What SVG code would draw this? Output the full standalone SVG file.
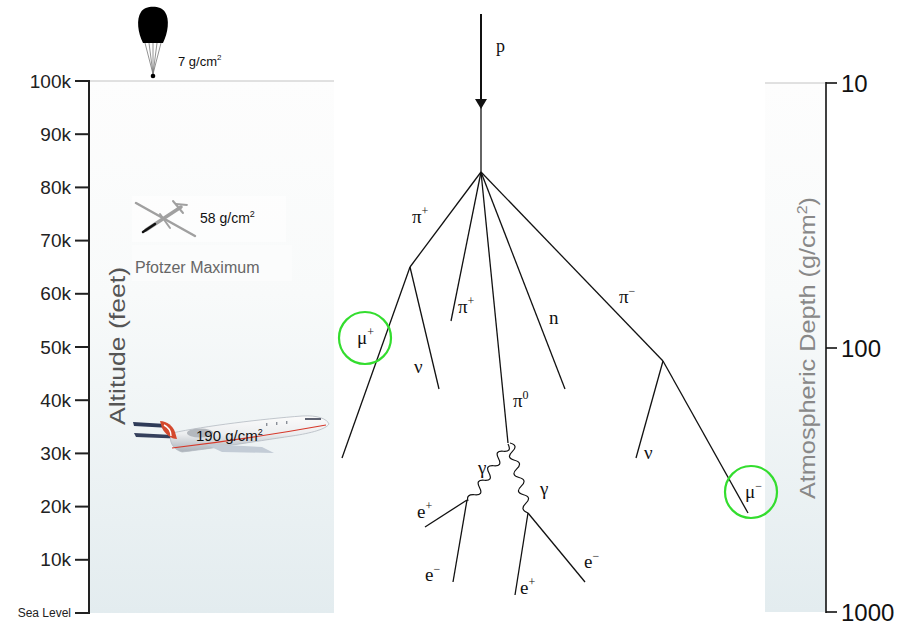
<svg xmlns="http://www.w3.org/2000/svg" width="914" height="627" viewBox="0 0 914 627">
  <defs>
    <linearGradient id="sky" x1="0" y1="0" x2="0" y2="1">
      <stop offset="0" stop-color="#fdfdfd"/>
      <stop offset="0.4" stop-color="#f8fafa"/>
      <stop offset="1" stop-color="#e3ecef"/>
    </linearGradient>
    <linearGradient id="hull" x1="0" y1="0" x2="0" y2="1">
      <stop offset="0" stop-color="#fbfbfb"/>
      <stop offset="0.5" stop-color="#eceef0"/>
      <stop offset="1" stop-color="#aab1b9"/>
    </linearGradient>
    <filter id="soft" x="-10%" y="-30%" width="120%" height="160%">
      <feGaussianBlur stdDeviation="0.5"/>
    </filter>
    <style>
      .ax { stroke: #222; stroke-width: 2; fill: none; }
      .tick { stroke: #222; stroke-width: 2; }
      .alab { font-family: "Liberation Sans", Arial, sans-serif; font-size: 19px; fill: #222; text-anchor: end; }
      .rlab { font-family: "Liberation Sans", Arial, sans-serif; font-size: 24px; fill: #111; }
      .edge { stroke: #111; stroke-width: 1.3; fill: none; }
      .wave { stroke: #111; stroke-width: 1.2; fill: none; }
      .ptl { font-family: "Liberation Serif", "Times New Roman", serif; font-size: 19px; fill: #111; }
      .sup { font-size: 12px; }
      .ring { stroke: #33dd2e; stroke-width: 2.2; fill: none; }
      .note { font-family: "Liberation Sans", Arial, sans-serif; fill: #111; }
    </style>
  </defs>

  <rect width="914" height="627" fill="#ffffff"/>

  <!-- atmosphere panels -->
  <rect x="89" y="81" width="245" height="532" fill="url(#sky)"/>
  <rect x="765" y="83" width="61" height="529" fill="url(#sky)"/>
  <line x1="89" y1="81" x2="334" y2="81" stroke="#c4c4c4" stroke-width="1.2"/>
  <line x1="765" y1="83" x2="826" y2="83" stroke="#c4c4c4" stroke-width="1.2"/>

  <!-- altitude axis -->
  <g id="altitude-axis">
    <line class="ax" x1="89" y1="80" x2="89" y2="614"/>
    <g class="tick">
      <line x1="75" y1="81" x2="89" y2="81"/>
      <line x1="75" y1="134.2" x2="89" y2="134.2"/>
      <line x1="75" y1="187.4" x2="89" y2="187.4"/>
      <line x1="75" y1="240.6" x2="89" y2="240.6"/>
      <line x1="75" y1="293.8" x2="89" y2="293.8"/>
      <line x1="75" y1="347" x2="89" y2="347"/>
      <line x1="75" y1="400.2" x2="89" y2="400.2"/>
      <line x1="75" y1="453.4" x2="89" y2="453.4"/>
      <line x1="75" y1="506.6" x2="89" y2="506.6"/>
      <line x1="75" y1="559.8" x2="89" y2="559.8"/>
      <line x1="75" y1="613" x2="89" y2="613"/>
    </g>
    <text class="alab" x="71" y="88">100k</text>
    <text class="alab" x="71" y="141">90k</text>
    <text class="alab" x="71" y="194">80k</text>
    <text class="alab" x="71" y="247">70k</text>
    <text class="alab" x="71" y="300">60k</text>
    <text class="alab" x="71" y="354">50k</text>
    <text class="alab" x="71" y="407">40k</text>
    <text class="alab" x="71" y="460">30k</text>
    <text class="alab" x="71" y="513">20k</text>
    <text class="alab" x="71" y="566">10k</text>
    <text class="alab" x="71" y="617" style="font-size:12px">Sea Level</text>
    <text x="0" y="0" transform="translate(125,346) rotate(-90)" text-anchor="middle" font-family="'Liberation Sans', Arial, sans-serif" font-size="22" fill="#555" textLength="158" lengthAdjust="spacingAndGlyphs">Altitude (feet)</text>
  </g>

  <!-- depth axis -->
  <g id="depth-axis">
    <line x1="826" y1="82" x2="826" y2="613" stroke="#111" stroke-width="1.6"/>
    <line x1="826" y1="83" x2="837" y2="83" stroke="#111" stroke-width="1.6"/>
    <line x1="826" y1="348" x2="837" y2="348" stroke="#111" stroke-width="1.6"/>
    <line x1="826" y1="612" x2="837" y2="612" stroke="#111" stroke-width="1.6"/>
    <text class="rlab" x="841" y="92">10</text>
    <text class="rlab" x="841" y="357">100</text>
    <text class="rlab" x="841" y="621">1000</text>
    <text x="0" y="0" transform="translate(815,348) rotate(-90)" text-anchor="middle" font-family="'Liberation Sans', Arial, sans-serif" font-size="22" fill="#888" textLength="302" lengthAdjust="spacingAndGlyphs">Atmospheric Depth (g/cm<tspan dy="-8" font-size="14">2</tspan><tspan dy="8">)</tspan></text>
  </g>

  <!-- balloon -->
  <g id="balloon">
    <path d="M143,43 C138,33 136,19 141,12 C145,5 161,5 165,12 C170,19 168,33 163,43 Z" fill="#000"/>
    <g stroke="#777" stroke-width="0.8">
      <line x1="145" y1="43" x2="153" y2="74"/>
      <line x1="149" y1="43" x2="153" y2="74"/>
      <line x1="153" y1="43" x2="153" y2="74"/>
      <line x1="157" y1="43" x2="153" y2="74"/>
      <line x1="161" y1="43" x2="153" y2="74"/>
    </g>
    <circle cx="153" cy="76" r="2.3" fill="#000"/>
    <text class="note" x="178" y="66" font-size="13">7 g/cm<tspan dy="-6" font-size="8">2</tspan></text>
  </g>

  <!-- high-altitude aircraft near the Pfotzer maximum -->
  <g id="pfotzer">
    <rect x="132" y="196" width="154" height="46" fill="#ffffff" opacity="0.5"/>
    <rect x="132" y="245" width="160" height="36" fill="#ffffff" opacity="0.4"/>
    <g stroke="#a0a0a0" stroke-linecap="round">
      <line x1="136" y1="203" x2="195" y2="236" stroke-width="2.5"/>
      <line x1="146" y1="230" x2="181" y2="207" stroke-width="3.5"/>
      <line x1="173" y1="201" x2="183" y2="213" stroke-width="2"/>
      <line x1="176" y1="204" x2="187" y2="205" stroke-width="1.8"/>
      <line x1="160" y1="214" x2="170" y2="228" stroke-width="2"/>
    </g>
    <line x1="143" y1="232" x2="155" y2="224" stroke="#111" stroke-width="2.5" stroke-linecap="round"/>
    <text class="note" x="200" y="223" font-size="14">58 g/cm<tspan dy="-6" font-size="9">2</tspan></text>
    <text x="135" y="273" font-family="'Liberation Sans', Arial, sans-serif" font-size="16" fill="#666">Pfotzer Maximum</text>
  </g>

  <!-- airliner -->
  <g id="airliner" filter="url(#soft)">
    <path d="M133,422 L166,424 L170,428 L134,426 Z" fill="#2f3a58"/>
    <path d="M134,433 L212,437 L214,440 L136,437 Z" fill="#34405c"/>
    <path d="M172,433 C205,426 262,419 302,416 C318,415 327,419 329,424 C326,429 312,433 292,436 C252,442 208,449 182,452 C172,449 168,440 172,433 Z" fill="url(#hull)" stroke="#b4bac1" stroke-width="0.8"/>
    <path d="M160,421 C167,421 173,426 175,432 L177,439 C171,439 165,434 162,428 Z" fill="#d44a2e"/>
    <path d="M164,425 C168,427 171,431 171,436" stroke="#ffffff" stroke-width="1.4" fill="none"/>
    <path d="M205,444 L262,447 L274,453 L222,452 Z" fill="#c3ccd6"/>
    <ellipse cx="200" cy="433" rx="13" ry="4.5" fill="#b3b8be"/>
    <path d="M172,448 C222,442 282,433 326,425" stroke="#d6382a" stroke-width="1.2" fill="none"/>
    <path d="M305,419 L321,419" stroke="#5e6472" stroke-width="2"/>
    <g fill="#8a8f98">
      <rect x="266" y="423" width="1.4" height="3"/>
      <rect x="276" y="422" width="1.4" height="3"/>
      <rect x="286" y="421" width="1.4" height="3"/>
    </g>
  </g>
  <text class="note" x="196" y="441" font-size="15">190 g/cm<tspan dy="-6" font-size="9">2</tspan></text>

  <!-- shower connectors -->
  <g id="connectors">
    <line x1="481" y1="14" x2="481" y2="101" stroke="#111" stroke-width="2"/>
    <polygon points="475,99 487,99 481,109" fill="#111"/>
    <line class="edge" x1="481" y1="105" x2="481" y2="172"/>
    <!-- primary vertex branches -->
    <line class="edge" x1="481" y1="172" x2="410" y2="267"/>
    <line class="edge" x1="481" y1="172" x2="451" y2="321"/>
    <line class="edge" x1="481" y1="172" x2="508" y2="443"/>
    <line class="edge" x1="481" y1="172" x2="565" y2="389"/>
    <line class="edge" x1="481" y1="172" x2="663" y2="361"/>
    <!-- pi+ decay -->
    <line class="edge" x1="410" y1="267" x2="342" y2="458"/>
    <line class="edge" x1="410" y1="267" x2="439" y2="389"/>
    <!-- pi- decay -->
    <line class="edge" x1="663" y1="361" x2="636" y2="458"/>
    <line class="edge" x1="663" y1="361" x2="748" y2="513"/>
    <!-- pi0 photons -->
    <path class="wave" d="M508,444 Q512.3,452 503.25,451.25 T498.5,458.5 T493.75,465.75 T489,473 T484.25,480.25 T479.5,487.5 T474.75,494.75 T468,501"/>
    <path class="wave" d="M510,443 Q518.8,445.3 512.25,451.63 T514.5,460.25 T516.75,468.88 T519,477.5 T521.25,486.13 T523.5,494.75 T525.75,503.38 T528,513"/>
    <!-- pair production -->
    <line class="edge" x1="467" y1="500" x2="425" y2="527"/>
    <line class="edge" x1="467" y1="500" x2="453" y2="582"/>
    <line class="edge" x1="528" y1="513" x2="515" y2="595"/>
    <line class="edge" x1="528" y1="513" x2="585" y2="582"/>
  </g>

  <!-- particle labels -->
  <g id="labels">
    <text class="ptl" x="496" y="52" style="font-size:18px">p</text>
    <text class="ptl" x="412" y="223">π<tspan class="sup" dy="-8">+</tspan></text>
    <text class="ptl" x="458" y="313">π<tspan class="sup" dy="-8">+</tspan></text>
    <text class="ptl" x="549" y="324">n</text>
    <text class="ptl" x="619" y="303">π<tspan class="sup" dy="-8">−</tspan></text>
    <text class="ptl" x="414" y="373">ν</text>
    <text class="ptl" x="644" y="459">ν</text>
    <text class="ptl" x="513" y="407">π<tspan class="sup" dy="-8">0</tspan></text>
    <text class="ptl" x="478" y="474">γ</text>
    <text class="ptl" x="540" y="495">γ</text>
    <text class="ptl" x="417" y="518">e<tspan class="sup" dy="-8">+</tspan></text>
    <text class="ptl" x="425" y="581">e<tspan class="sup" dy="-8">−</tspan></text>
    <text class="ptl" x="520" y="594">e<tspan class="sup" dy="-8">+</tspan></text>
    <text class="ptl" x="584" y="568">e<tspan class="sup" dy="-8">−</tspan></text>
  </g>

  <!-- muon markers -->
  <g id="mu-plus">
    <circle class="ring" cx="365" cy="338" r="26"/>
    <text class="ptl" x="357" y="344">μ<tspan class="sup" dy="-8">+</tspan></text>
  </g>
  <g id="mu-minus">
    <circle class="ring" cx="751" cy="492" r="26"/>
    <text class="ptl" x="745" y="498">μ<tspan class="sup" dy="-8">−</tspan></text>
  </g>
</svg>
